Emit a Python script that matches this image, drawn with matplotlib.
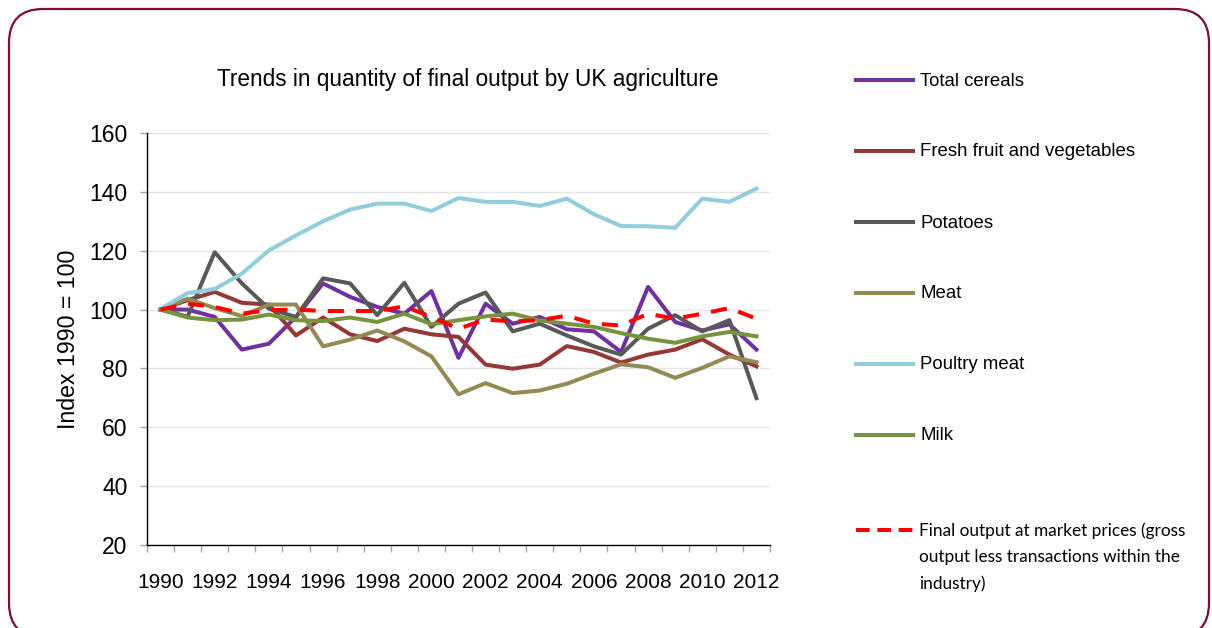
import numpy as np
import matplotlib
matplotlib.use("Agg")
import matplotlib.pyplot as plt
from matplotlib.lines import Line2D
from matplotlib.patches import FancyBboxPatch

plt.rcParams['font.family'] = ['Liberation Sans', 'DejaVu Sans']

# data (index, 1990 = 100)
years = list(range(1990, 2013))
cereals = [100, 100, 97.5, 86.4, 88.4, 97.5, 108.9, 104.3, 100.9, 98.6, 106.3, 83.6,
           102, 95.2, 97.5, 93.3, 92.6, 85.6, 107.7, 95.8, 92.9, 95, 86.4]
fruit_veg = [100, 103.2, 106, 102.3, 101.7, 91.2, 97.3, 91.6, 89.3, 93.5, 91.6, 90.7,
             81.3, 79.9, 81.3, 87.6, 85.6, 82, 84.7, 86.4, 89.9, 84.7, 80.7]
potatoes = [100, 97.6, 119.5, 108.9, 100.3, 97.5, 110.6, 108.9, 98.1, 109.1, 94.1, 102,
            105.8, 92.6, 95.2, 91.2, 87.5, 84.7, 93.5, 98.1, 92.6, 96.4, 69.9]
meat = [100, 103.7, 100.5, 97.8, 101.7, 101.7, 87.5, 89.8, 92.9, 89.2, 84.1, 71.2,
        75, 71.6, 72.5, 74.8, 78.2, 81.4, 80.4, 76.8, 80.2, 84.1, 82.1]
poultry = [100.2, 105.6, 107, 112.2, 120.1, 125.2, 130, 134, 136, 136, 133.5, 137.9,
           136.6, 136.6, 135.2, 137.7, 132.4, 128.4, 128.3, 127.8, 137.7, 136.6, 141.1]
milk = [100, 97.3, 96.4, 96.6, 98.3, 96.4, 96.1, 97.3, 95.8, 98.6, 95, 96.4,
        97.7, 98.6, 96.3, 95.2, 94.1, 92, 90.1, 88.7, 90.9, 92.4, 90.9]
final_output = [100, 102, 100.9, 98.6, 99.8, 100, 99.5, 99.5, 99.5, 101.1, 97.5, 93.5,
                96.6, 96, 96.4, 97.9, 95.2, 94.6, 98.6, 96.9, 98.6, 100.5, 96.9]

labels = ["Total cereals", "Fresh fruit and vegetables", "Potatoes", "Meat",
          "Poultry meat", "Milk"]
series = [cereals, fruit_veg, potatoes, meat, poultry, milk]
colors = ["#7030A0", "#953735", "#595959", "#948A54", "#92CDDC", "#77933C"]
final_label = "Final output at market prices (gross\noutput less transactions within the\nindustry)"

W, H = 1212, 628
fig = plt.figure(figsize=(W / 100, H / 100), dpi=100)

# background axes in pixel units, for the rounded border (y measured from bottom)
bg = fig.add_axes([0, 0, 1, 1])
bg.set_xlim(0, W)
bg.set_ylim(0, H)
bg.axis("off")
bg.add_patch(FancyBboxPatch((9, -9), 1200, 628, boxstyle="round,pad=0,rounding_size=34",
                            fill=False, edgecolor="#7F0D2E", linewidth=1.6, clip_on=False))

ax = fig.add_axes([147 / W, 1 - 545 / H, (770 - 147) / W, (545 - 133) / H])
x = np.arange(len(years))
lw = 2.9
for vals, c in zip(series, colors):
    ax.plot(x, vals, color=c, linewidth=lw)
ax.plot(x, final_output, color="#FF0000", linewidth=lw, dashes=(4, 3))

ax.set_xlim(-0.5, len(years) - 0.5)
ax.set_ylim(20, 160)
ax.set_yticks(range(20, 161, 20))
ax.set_xticks(x[::2])
ax.set_xticklabels([str(y) for y in years[::2]])
ax.set_xticks(np.arange(-0.5, len(years), 1), minor=True)
ax.tick_params(axis="x", which="major", length=0, pad=20.5, labelsize=15)
ax.tick_params(axis="x", which="minor", length=5, color="#A6A6A6", width=1)
ax.tick_params(axis="y", length=5, color="#A6A6A6", width=1, pad=9, labelsize=16.5)
ax.grid(axis="y", color="#E6E6E6", linewidth=1)
ax.set_axisbelow(True)
for s in ["top", "right"]:
    ax.spines[s].set_visible(False)
for s in ["left", "bottom"]:
    ax.spines[s].set_color("black")
    ax.spines[s].set_linewidth(1)
ax.set_ylabel("Index 1990 = 100", fontsize=16.7, labelpad=7)

fig.text(468 / W, 1 - 86 / H, "Trends in quantity of final output by UK agriculture",
         ha="center", va="baseline", fontsize=16.3)

# legend drawn by hand to match spacing
ys = [80, 151, 222, 293, 364, 435]
for yy, lab, c in zip(ys, labels, colors):
    fig.add_artist(Line2D([856 / W, 913 / W], [1 - yy / H] * 2, color=c,
                          linewidth=lw, transform=fig.transFigure))
    fig.text(920 / W, 1 - (yy + 5.5) / H, lab, ha="left", va="baseline", fontsize=13.4)
fig.add_artist(Line2D([856 / W, 913 / W], [1 - 530 / H] * 2, color="#FF0000",
                      linewidth=lw, dashes=(3.4, 1.9), transform=fig.transFigure))
fig.text(919 / W, 1 - 522 / H, final_label, ha="left", va="top", fontsize=12.4,
         family=["Lato", "DejaVu Sans"], linespacing=1.79)

fig.savefig("out.png", dpi=100)
